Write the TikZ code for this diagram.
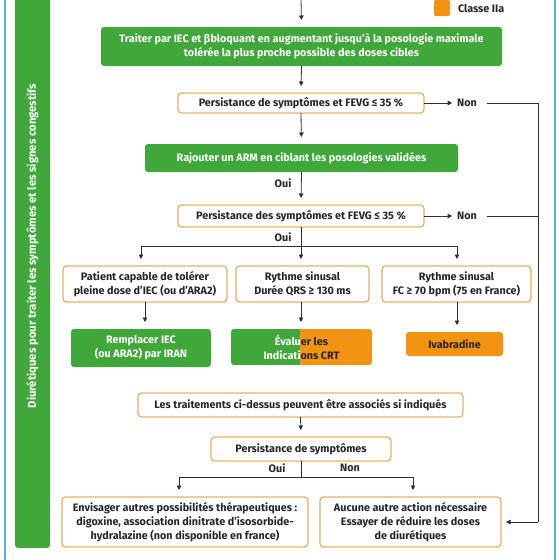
\documentclass[tikz,border=0pt]{standalone}
\usepackage{fontspec}
\setmainfont{Fira Sans}
\usetikzlibrary{arrows.meta,calc}
\definecolor{cgreen}{HTML}{40A83A}
\definecolor{corange}{HTML}{F29312}
\definecolor{ctan}{HTML}{E8B066}
\definecolor{cblue}{HTML}{5AAEE0}
\definecolor{ctext}{HTML}{262626}
\definecolor{cline}{HTML}{2E2E2E}
\begin{document}
\begin{tikzpicture}[x=1pt,y=-1pt,
  font=\fontsize{10.8}{14}\selectfont\bfseries,
  every node/.style={inner sep=0pt,outer sep=0pt,align=center},
  greenbox/.style={rectangle,rounded corners=3pt,fill=cgreen,text=white},
  orangebox/.style={rectangle,rounded corners=3pt,fill=corange,text=ctext},
  tanbox/.style={rectangle,rounded corners=3.5pt,draw=ctan,line width=1.3pt,fill=white,text=ctext},
  lbl/.style={text=ctext},
  conn/.style={draw=cline,line width=0.8pt},
  arr/.style={conn,-{Triangle[width=4.5pt,length=4.5pt]},shorten >=7pt}
]
\useasboundingbox (0,0) rectangle (560,560);
\fill[white] (0,0) rectangle (560,560);
% frame lines
\draw[cblue,line width=1.4pt] (5,0) -- (5,560);
\draw[cblue,line width=1.4pt] (555,0) -- (555,560);
% side bar
\node[greenbox,minimum width=35pt,minimum height=560pt] (side) at (32.5,268) {};
\node[text=white,rotate=90,font=\fontsize{11.3}{12}\selectfont\bfseries] (sidetxt) at (32.5,246) {Diurétiques pour traiter les symptômes et les signes congestifs};
% legend
\node[orangebox,rounded corners=2pt,minimum width=16pt,minimum height=16pt] (legsq) at (442,8) {};
\node[lbl,anchor=west] (legtxt) at (458,8) {Classe IIa};
% nodes
\coordinate (top) at (301,-2);
\node[greenbox,minimum width=401pt,minimum height=39pt] (g1) at (301.5,46.5) {Traiter par IEC et βbloquant en augmentant jusqu'à la posologie maximale\\tolérée la plus proche possible des doses cibles};
\node[tanbox,minimum width=246pt,minimum height=20pt] (p1) at (301,103) {Persistance de symptômes et FEVG ≤ 35 \%};
\node[lbl] (n1) at (467,103) {Non};
\node[greenbox,minimum width=313pt,minimum height=28pt] (g2) at (301.5,158) {Rajouter un ARM en ciblant les posologies validées};
\node[lbl] (o1) at (283,183) {Oui};
\node[tanbox,minimum width=246pt,minimum height=22pt] (p2) at (301,216) {Persistance des symptômes et FEVG ≤ 35 \%};
\node[lbl] (n2) at (467,216) {Non};
\node[lbl] (o2) at (283,237) {Oui};
\node[tanbox,minimum width=164pt,minimum height=36pt] (a) at (145,284) {Patient capable de tolérer\\pleine dose d'IEC (ou d'ARA2)};
\node[tanbox,minimum width=133pt,minimum height=36pt] (b) at (302.5,284) {Rythme sinusal\\Durée QRS ≥ 130 ms};
\node[tanbox,minimum width=149pt,minimum height=36pt] (c) at (456.5,284) {Rythme sinusal\\FC ≥ 70 bpm (75 en France)};
\node[greenbox,minimum width=140pt,minimum height=38pt] (r1) at (141,348) {Remplacer IEC\\(ou ARA2) par IRAN};
\node[minimum width=141pt,minimum height=36pt] (ev) at (301.5,347) {};
\begin{scope}
  \clip[rounded corners=3pt] (ev.north west) rectangle (ev.south east);
  \fill[cgreen] (ev.north west) rectangle (300,365);
  \fill[corange] (300,329) rectangle (ev.south east);
\end{scope}
\begin{scope}
  \clip (ev.north west) rectangle (300,365);
  \node[text=white] (evA) at (ev.center) {Évaluer les\\Indications CRT};
\end{scope}
\begin{scope}
  \clip (300,329) rectangle (ev.south east);
  \node[text=ctext] (evB) at (ev.center) {Évaluer les\\Indications CRT};
\end{scope}
\node[orangebox,minimum width=97pt,minimum height=24pt] (iv) at (454.5,344) {Ivabradine};
\node[tanbox,minimum width=325pt,minimum height=24pt] (t) at (300.5,405) {Les traitements ci-dessus peuvent être associés si indiqués};
\node[tanbox,minimum width=180pt,minimum height=24pt] (p3) at (301,449) {Persistance de symptômes};
\node[lbl] (o3) at (277,468) {Oui};
\node[lbl] (n3) at (350,468) {Non};
\node[tanbox,minimum width=246pt,minimum height=50pt] (bl) at (185,522) {Envisager autres possibilités thérapeutiques :\\digoxine, association dinitrate d'isosorbide-\\hydralazine (non disponible en france)};
\node[tanbox,minimum width=181pt,minimum height=50pt] (br) at (410.5,522) {Aucune autre action nécessaire\\Essayer de réduire les doses\\de diurétiques};
% coordinates
\coordinate (j2) at (301,246);
\coordinate (j2l) at (141,246);
\coordinate (j2r) at (457,246);
\coordinate (j3) at (301,477);
\coordinate (j3l) at (179,477);
\coordinate (j3r) at (413,477);
\coordinate (rtop) at (538,103);
\coordinate (rbot) at (538,522);
% connectors
\draw[arr] (top) -- (g1.north);
\draw[arr] (g1.south) -- (p1.north);
\draw[arr] (p1.south) -- (g2.north);
\draw[arr,shorten >=5pt] (p1.east) -- (n1.west);
\draw[conn] ([xshift=10pt]n1.east) -- (rtop) -- (rbot);
\draw[arr] (g2.south) -- (p2.north);
\draw[arr,shorten >=5pt] (p2.east) -- (n2.west);
\draw[conn] ([xshift=10pt]n2.east) -- (rtop |- n2);
\draw[conn] (p2.south) -- (j2);
\draw[conn] (j2l) -- (j2r);
\draw[arr] (j2l) -- (j2l |- a.north);
\draw[arr] (j2) -- (j2 |- b.north);
\draw[arr] (j2r) -- (j2r |- c.north);
\draw[arr] (a.south) -- (a.south |- r1.north);
\draw[arr] (j2 |- b.south) -- (j2 |- ev.north);
\draw[arr] (j2r |- c.south) -- (j2r |- iv.north);
\draw[arr] (t.south) -- (p3.north);
\draw[conn] (p3.south) -- (j3);
\draw[conn] (j3l) -- (j3r);
\draw[arr] (j3l) -- (j3l |- bl.north);
\draw[arr] (j3r) -- (j3r |- br.north);
\draw[arr,shorten >=5pt] (rbot) -- (br.east);
\end{tikzpicture}
\end{document}
